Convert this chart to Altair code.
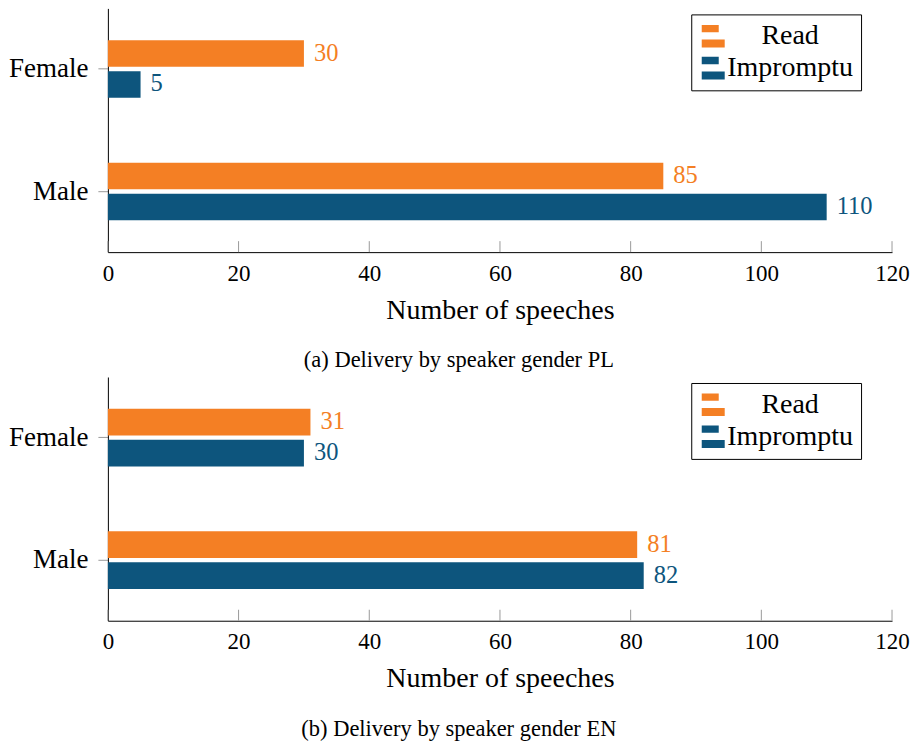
import altair as alt
import pandas as pd

categories = ["Female", "Male"]
series = ["Read", "Impromptu"]
pl_read = [30, 85]
pl_impromptu = [5, 110]
en_read = [31, 81]
en_impromptu = [30, 82]
tick_values = [0, 20, 40, 60, 80, 100, 120]
captions = ["(a) Delivery by speaker gender PL", "(b) Delivery by speaker gender EN"]

ORANGE = "#F47F24"
BLUE = "#0D557D"
FONT = "Liberation Serif"
W, H = 785, 244


def make_df(read, imp):
    rows = []
    for c, r, i in zip(categories, read, imp):
        rows.append({"gender": c, "delivery": "Read", "value": r})
        rows.append({"gender": c, "delivery": "Impromptu", "value": i})
    return pd.DataFrame(rows)


def panel(read, imp, caption):
    df = make_df(read, imp)
    base = alt.Chart(df)
    y = alt.Y(
        "gender:N",
        sort=categories,
        scale=alt.Scale(paddingInner=0.53, paddingOuter=0.26),
        axis=alt.Axis(
            title=None,
            domainColor="black",
            tickColor="#9a9a9a",
            tickSize=10,
            labelFontSize=27,
            labelColor="black",
            labelPadding=10,
            labelFont=FONT,
        ),
    )
    yoff = alt.YOffset(
        "delivery:N", sort=series, scale=alt.Scale(paddingInner=0.14, paddingOuter=0)
    )
    x = alt.X(
        "value:Q",
        scale=alt.Scale(domain=[0, 120], nice=False),
        axis=alt.Axis(
            values=tick_values,
            ticks=False,
            grid=False,
            labelFlush=False,
            domainColor="black",
            labelFontSize=23,
            labelColor="black",
            labelPadding=10,
            labelFont=FONT,
            title="Number of speeches",
            titleFontSize=28,
            titleFontWeight="normal",
            titleColor="black",
            titleFont=FONT,
            titlePadding=11,
        ),
    )
    color = alt.Color(
        "delivery:N",
        sort=series,
        scale=alt.Scale(domain=series, range=[ORANGE, BLUE]),
        legend=alt.Legend(
            title=None,
            orient="none",
            legendX=584,
            legendY=6,
            strokeColor="black",
            fillColor="white",
            padding=8,
            symbolType="M-1,-1H0.48V-0.36H-1Z M-1,0.27H1V0.97H-1Z",
            symbolSize=529,
            symbolStrokeWidth=0,
            labelFontSize=28,
            labelFont=FONT,
            labelColor="black",
            labelOffset=63,
            labelAlign="center",
            rowPadding=4,
        ),
    )
    bars = base.mark_bar().encode(y=y, yOffset=yoff, x=x, color=color)
    labels = base.mark_text(align="left", dx=10, fontSize=24.5, font=FONT).encode(
        y=y,
        yOffset=yoff,
        x=x,
        text="value:Q",
        color=alt.Color("delivery:N", scale=alt.Scale(domain=series, range=[ORANGE, BLUE]), legend=None),
    )
    ticks = (
        alt.Chart(pd.DataFrame({"t": tick_values}))
        .mark_rule(color="#9a9a9a", strokeWidth=1)
        .encode(x=alt.X("t:Q"), y=alt.value(H), y2=alt.value(H - 11))
    )
    return alt.layer(bars, labels, ticks).properties(
        width=W,
        height=H,
        title=alt.TitleParams(
            caption,
            orient="bottom",
            frame="bounds",
            anchor="middle",
            fontSize=22.5,
            fontWeight="normal",
            font=FONT,
            color="black",
            offset=25,
        ),
    )


chart = (
    alt.vconcat(
        panel(pl_read, pl_impromptu, captions[0]),
        panel(en_read, en_impromptu, captions[1]),
        spacing=5,
    )
    .resolve_scale(color="independent")
    .properties(padding=0)
    .configure(font=FONT)
    .configure_view(strokeWidth=0, stroke="transparent")
)

chart.save("out.html", embed_options={"renderer": "svg", "actions": False})
